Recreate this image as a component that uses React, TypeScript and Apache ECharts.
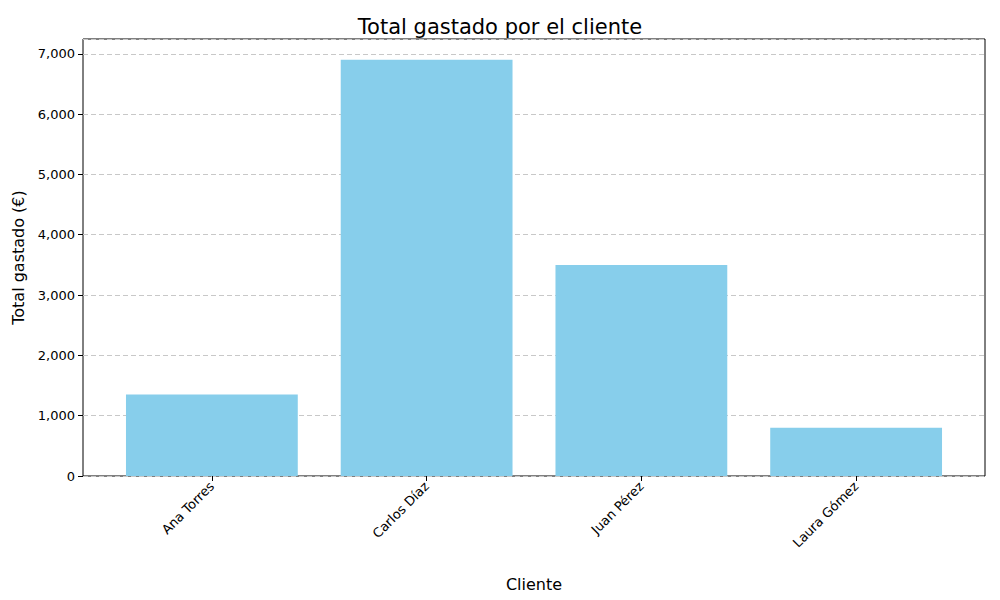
import { useEffect, useRef } from "react";
import * as echarts from "echarts";

const clientes = ["Ana Torres", "Carlos Díaz", "Juan Pérez", "Laura Gómez"];
const totales = [1350, 6900, 3500, 800];
const yMax = 7245;

export default function App() {
  const ref = useRef<HTMLDivElement | null>(null);

  useEffect(() => {
    if (!ref.current) return;
    const chart = echarts.init(ref.current, null, { renderer: "svg" });
    const font = "DejaVu Sans";
    chart.setOption({
      animation: false,
      backgroundColor: "#fff",
      textStyle: { fontFamily: font },
      title: {
        text: "Total gastado por el cliente",
        left: "center",
        top: 11,
        textStyle: { fontSize: 21, fontWeight: "normal", color: "#000", fontFamily: font },
      },
      grid: [
        { left: 104.5, right: 36.5, top: 39, bottom: 124 },
        { left: 83, right: 15, top: 39, bottom: 124, show: true, borderColor: "#000", borderWidth: 1, backgroundColor: "transparent" },
      ],
      xAxis: [
        {
          type: "category",
          gridIndex: 0,
          data: clientes,
          axisLine: { show: false },
          axisTick: { show: true, alignWithLabel: true, length: 5, lineStyle: { color: "#000" } },
          axisLabel: { rotate: 45, color: "#000", fontSize: 13, margin: 8 },
          name: "Cliente",
          nameLocation: "middle",
          nameGap: 100,
          nameTextStyle: { fontSize: 16, color: "#000" },
        },
        {
          type: "value",
          gridIndex: 1,
          min: 0,
          max: 1,
          axisLine: { show: false },
          axisTick: { show: false },
          axisLabel: { show: false },
          splitLine: { show: false },
        },
      ],
      yAxis: [
        { type: "value", gridIndex: 0, min: 0, max: yMax, show: false, splitLine: { show: false } },
        {
          type: "value",
          gridIndex: 1,
          min: 0,
          max: yMax,
          interval: 1000,
          axisLine: { show: false },
          axisTick: { show: true, length: 5, lineStyle: { color: "#000" } },
          axisLabel: { color: "#000", fontSize: 13, showMaxLabel: false },
          splitLine: { show: true, lineStyle: { type: [5, 3], color: "#c8c8c8" } },
          name: "Total gastado (€)",
          nameLocation: "middle",
          nameGap: 55,
          nameTextStyle: { fontSize: 16, color: "#000" },
        },
      ],
      series: [
        {
          type: "bar",
          xAxisIndex: 0,
          yAxisIndex: 0,
          data: totales,
          barWidth: "80%",
          itemStyle: { color: "#87ceeb" },
        },
      ],
    });
    return () => chart.dispose();
  }, []);

  return <div ref={ref} style={{ width: 1000, height: 600, margin: -8 }} />;
}
